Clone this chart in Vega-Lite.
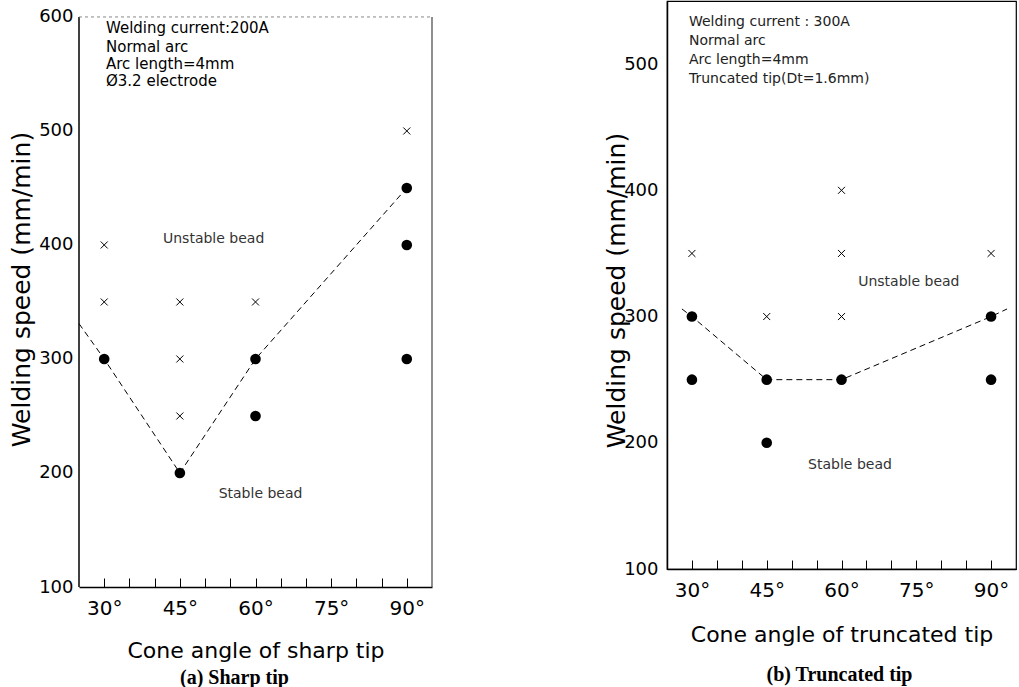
{
  "$schema": "https://vega.github.io/schema/vega-lite/v6.json",
  "background": "white",
  "padding": {"left": 9, "top": 0, "right": 0, "bottom": 0},
  "spacing": 235,
  "bounds": "flush",
  "config": {
    "font": "DejaVu Sans",
    "view": {"stroke": null},
    "axis": {"grid": false, "labelColor": "black", "titleColor": "black", "domainColor": "black", "tickColor": "black", "labelFont": "DejaVu Sans", "titleFont": "DejaVu Sans", "titleFontWeight": "normal", "labelOverlap": false, "labelFlush": false}
  },
  "hconcat": [
    {
      "width": 353,
      "height": 586,
      "title": {"text": "(a) Sharp tip", "orient": "bottom", "font": "Liberation Serif", "fontWeight": "bold", "fontSize": 20, "color": "black", "dx": -21, "offset": 7},
      "encoding": {
        "x": {"field": "angle", "type": "quantitative", "scale": {"domain": [25, 95], "nice": false, "zero": false},
          "axis": {"title": "Cone angle of sharp tip", "values": [30, 35, 40, 45, 50, 55, 60, 65, 70, 75, 80, 85, 90], "labelExpr": "indexof([30, 45, 60, 75, 90], datum.value) >= 0 ? datum.value + '°' : ''", "tickSize": -9, "tickWidth": 1, "labelPadding": 20, "labelFontSize": 20, "titleFontSize": 22, "titleY": 63, "titleBaseline": "middle", "domainWidth": 1.5}},
        "y": {"field": "speed", "type": "quantitative", "scale": {"domain": [100, 614], "nice": false, "zero": false},
          "axis": {"title": "Welding speed (mm/min)", "values": [100, 200, 300, 400, 500, 600], "ticks": false, "domain": false, "labelPadding": 6, "labelFontSize": 18, "titleFontSize": 25, "titleX": -58, "titleY": 288, "titleBaseline": "middle"}}
      },
      "layer": [
        {
          "data": {"values": [{"angle": 25, "speed": 100, "speed_top": 600}]},
          "mark": {"type": "rule", "color": "black", "strokeWidth": 1.5},
          "encoding": {"y2": {"field": "speed_top"}}
        },
        {
          "data": {"values": [{"angle": 95, "speed": 100, "speed_top": 600}]},
          "mark": {"type": "rule", "color": "#444", "strokeWidth": 1.2},
          "encoding": {"y2": {"field": "speed_top"}}
        },
        {
          "data": {"values": [{"angle": 25, "angle_end": 95, "speed": 600}]},
          "mark": {"type": "rule", "color": "#888", "strokeWidth": 1, "strokeDash": [3, 3]},
          "encoding": {"x2": {"field": "angle_end"}}
        },
        {
          "data": {"values": [
            {"angle": 30, "speed": 300},
            {"angle": 45, "speed": 200},
            {"angle": 60, "speed": 300},
            {"angle": 60, "speed": 250},
            {"angle": 90, "speed": 450},
            {"angle": 90, "speed": 400},
            {"angle": 90, "speed": 300}
          ]},
          "mark": {"type": "point", "shape": "circle", "filled": true, "color": "black", "size": 113, "opacity": 1}
        },
        {
          "data": {"values": [
            {"angle": 30, "speed": 400},
            {"angle": 30, "speed": 350},
            {"angle": 45, "speed": 350},
            {"angle": 45, "speed": 300},
            {"angle": 45, "speed": 250},
            {"angle": 60, "speed": 350},
            {"angle": 90, "speed": 500}
          ]},
          "mark": {"type": "point", "shape": "M-1,-1L1,1M1,-1L-1,1", "filled": false, "color": "black", "strokeWidth": 1, "size": 49, "opacity": 1}
        },
        {
          "data": {"values": [
            {"angle": 25, "speed": 331},
            {"angle": 30, "speed": 300},
            {"angle": 45, "speed": 200},
            {"angle": 60, "speed": 300},
            {"angle": 90, "speed": 450}
          ]},
          "mark": {"type": "line", "color": "black", "strokeWidth": 1, "strokeDash": [6, 4]}
        },
        {
          "data": {"values": [
            {"angle": 30.35, "speed": 590, "label": "Welding current:200A"},
            {"angle": 30.35, "speed": 574, "label": "Normal arc"},
            {"angle": 30.35, "speed": 559, "label": "Arc length=4mm"},
            {"angle": 30.35, "speed": 544, "label": "Ø3.2 electrode"}
          ]},
          "mark": {"type": "text", "align": "left", "baseline": "middle", "font": "DejaVu Sans", "fontSize": 15, "color": "black"},
          "encoding": {"text": {"field": "label"}}
        },
        {
          "data": {"values": [
            {"angle": 51.7, "speed": 405, "label": "Unstable bead"},
            {"angle": 61.0, "speed": 182, "label": "Stable bead"}
          ]},
          "mark": {"type": "text", "align": "center", "baseline": "middle", "font": "DejaVu Sans", "fontSize": 14, "color": "#333"},
          "encoding": {"text": {"field": "label"}}
        }
      ]
    },
    {
      "width": 349,
      "height": 568,
      "view": {"stroke": "black", "strokeWidth": 1.2},
      "title": {"text": "(b) Truncated tip", "orient": "bottom", "font": "Liberation Serif", "fontWeight": "bold", "fontSize": 20, "color": "black", "dx": -2, "offset": 20},
      "encoding": {
        "x": {"field": "angle", "type": "quantitative", "scale": {"domain": [25, 95], "nice": false, "zero": false},
          "axis": {"title": "Cone angle of truncated tip", "values": [30, 35, 40, 45, 50, 55, 60, 65, 70, 75, 80, 85, 90], "labelExpr": "indexof([30, 45, 60, 75, 90], datum.value) >= 0 ? datum.value + '°' : ''", "tickSize": -9, "tickWidth": 1, "labelPadding": 20, "labelFontSize": 20, "titleFontSize": 22, "titleY": 65, "titleBaseline": "middle", "domainWidth": 1.5}},
        "y": {"field": "speed", "type": "quantitative", "scale": {"domain": [100, 550], "nice": false, "zero": false},
          "axis": {"title": "Welding speed (mm/min)", "values": [100, 200, 300, 400, 500], "ticks": false, "domain": true, "domainWidth": 1.5, "labelPadding": 9, "labelFontSize": 18, "titleFontSize": 25, "titleX": -51, "titleY": 289, "titleBaseline": "middle"}}
      },
      "layer": [
        {
          "data": {"values": [
            {"angle": 30, "speed": 300},
            {"angle": 30, "speed": 250},
            {"angle": 45, "speed": 250},
            {"angle": 45, "speed": 200},
            {"angle": 60, "speed": 250},
            {"angle": 90, "speed": 300},
            {"angle": 90, "speed": 250}
          ]},
          "mark": {"type": "point", "shape": "circle", "filled": true, "color": "black", "size": 113, "opacity": 1}
        },
        {
          "data": {"values": [
            {"angle": 30, "speed": 350},
            {"angle": 45, "speed": 300},
            {"angle": 60, "speed": 400},
            {"angle": 60, "speed": 350},
            {"angle": 60, "speed": 300},
            {"angle": 90, "speed": 350}
          ]},
          "mark": {"type": "point", "shape": "M-1,-1L1,1M1,-1L-1,1", "filled": false, "color": "black", "strokeWidth": 1, "size": 49, "opacity": 1}
        },
        {
          "data": {"values": [
            {"angle": 28.0, "speed": 306},
            {"angle": 30, "speed": 300},
            {"angle": 45, "speed": 250},
            {"angle": 60, "speed": 250},
            {"angle": 90, "speed": 300},
            {"angle": 93.2, "speed": 306}
          ]},
          "mark": {"type": "line", "color": "black", "strokeWidth": 1, "strokeDash": [6, 4]}
        },
        {
          "data": {"values": [
            {"angle": 29.4, "speed": 533, "label": "Welding current : 300A"},
            {"angle": 29.4, "speed": 518, "label": "Normal arc"},
            {"angle": 29.4, "speed": 503, "label": "Arc length=4mm"},
            {"angle": 29.4, "speed": 488, "label": "Truncated tip(Dt=1.6mm)"}
          ]},
          "mark": {"type": "text", "align": "left", "baseline": "middle", "font": "DejaVu Sans", "fontSize": 14, "color": "#222"},
          "encoding": {"text": {"field": "label"}}
        },
        {
          "data": {"values": [
            {"angle": 73.5, "speed": 327, "label": "Unstable bead"},
            {"angle": 61.7, "speed": 182, "label": "Stable bead"}
          ]},
          "mark": {"type": "text", "align": "center", "baseline": "middle", "font": "DejaVu Sans", "fontSize": 14, "color": "#333"},
          "encoding": {"text": {"field": "label"}}
        }
      ]
    }
  ]
}
